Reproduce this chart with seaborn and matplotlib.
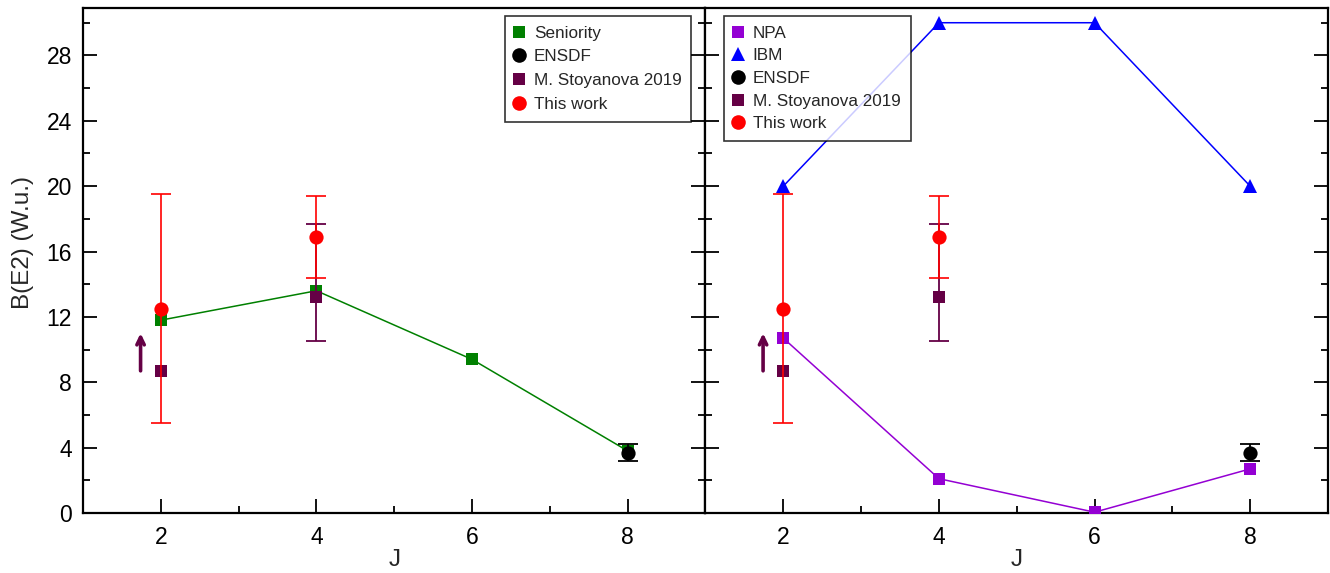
import numpy as np
import pandas as pd
import matplotlib
matplotlib.use("Agg")
import matplotlib.pyplot as plt
from matplotlib.ticker import MultipleLocator
from matplotlib.lines import Line2D
import seaborn as sns

# ---- data ----
J_model = [2, 4, 6, 8]
seniority = [11.8, 13.6, 9.4, 3.8]
npa = [10.7, 2.1, 0.05, 2.7]
ibm = [20.0, 30.0, 30.0, 20.0]

ensdf_J = [8]
ensdf_val = [3.7]
ensdf_err = [0.5]

stoy_J = [2, 4]
stoy_val = [8.7, 13.2]
stoy_err_lo = [0.0, 2.7]
stoy_err_hi = [0.0, 4.5]
stoy_limit_J = 1.74          # J=2 value is a lower limit
stoy_limit_from = 8.7
stoy_limit_to = 11.0

this_J = [2, 4]
this_val = [12.5, 16.9]
this_err = [7.0, 2.5]

# ---- style ----
sns.set_theme(style="white")
plt.rcParams["font.family"] = ["Liberation Sans", "DejaVu Sans"]

C_SEN = "#008000"
C_NPA = "#9400d3"
C_IBM = "#0000ff"
C_ENS = "#000000"
C_STO = "#650045"
C_THIS = "#ff0000"

fig, axes = plt.subplots(1, 2, figsize=(13.3, 5.73), dpi=100, sharey=True)
fig.subplots_adjust(left=0.0624, right=0.9985, top=0.986, bottom=0.1047, wspace=0)


def model_line(ax, values, color, marker, ms, z):
    df = pd.DataFrame({"J": J_model, "B": values})
    sns.lineplot(data=df, x="J", y="B", ax=ax, color=color, lw=1.1,
                 marker=marker, markersize=ms, markeredgewidth=0,
                 markeredgecolor=color, zorder=z, legend=False)


def data_points(ax):
    # ENSDF
    ax.errorbar(ensdf_J, ensdf_val, yerr=ensdf_err, fmt="none", ecolor=C_ENS,
                elinewidth=1.3, capsize=7.5, capthick=1.3, zorder=6)
    sns.scatterplot(x=ensdf_J, y=ensdf_val, ax=ax, color=C_ENS, marker="o",
                    s=105, linewidth=0, zorder=7, legend=False)
    # M. Stoyanova 2019: error bars only where an uncertainty is given
    has_err = [(lo > 0 or hi > 0) for lo, hi in zip(stoy_err_lo, stoy_err_hi)]
    ej = [j for j, k in zip(stoy_J, has_err) if k]
    ev = [v for v, k in zip(stoy_val, has_err) if k]
    elo = [e for e, k in zip(stoy_err_lo, has_err) if k]
    ehi = [e for e, k in zip(stoy_err_hi, has_err) if k]
    ax.errorbar(ej, ev, yerr=[elo, ehi], fmt="none",
                ecolor=C_STO, elinewidth=1.3, capsize=7.5, capthick=1.3, zorder=5)
    sns.scatterplot(x=stoy_J, y=stoy_val, ax=ax, color=C_STO, marker="s",
                    s=75, linewidth=0, zorder=6, legend=False)
    ax.annotate("", xy=(stoy_limit_J, stoy_limit_to),
                xytext=(stoy_limit_J, stoy_limit_from),
                arrowprops=dict(arrowstyle="->,head_length=0.45,head_width=0.22",
                                color=C_STO, lw=2.6, shrinkA=0, shrinkB=0),
                zorder=6)
    # This work
    ax.errorbar(this_J, this_val, yerr=this_err, fmt="none", ecolor=C_THIS,
                elinewidth=1.2, capsize=7.5, capthick=1.2, zorder=8)
    sns.scatterplot(x=this_J, y=this_val, ax=ax, color=C_THIS, marker="o",
                    s=105, linewidth=0, zorder=9, legend=False)


ax1, ax2 = axes
model_line(ax1, seniority, C_SEN, "s", 8.5, 3)
data_points(ax1)

model_line(ax2, npa, C_NPA, "s", 8.5, 3)
model_line(ax2, ibm, C_IBM, "^", 10, 10)
data_points(ax2)

for ax in axes:
    ax.set_xlim(1, 9)
    ax.set_ylim(0, 30.9)
    ax.xaxis.set_major_locator(MultipleLocator(2))
    ax.xaxis.set_minor_locator(MultipleLocator(1))
    ax.yaxis.set_major_locator(MultipleLocator(4))
    ax.yaxis.set_minor_locator(MultipleLocator(2))
    ax.tick_params(which="both", direction="in", left=True, right=True,
                   bottom=True, top=False, colors="black", width=1.3)
    ax.tick_params(which="major", length=10, labelsize=16.5)
    ax.tick_params(axis="x", which="major", pad=9)
    ax.tick_params(axis="y", which="major", pad=8)
    ax.tick_params(which="minor", length=5)
    for s in ax.spines.values():
        s.set_color("black")
        s.set_linewidth(1.6)
    ax.set_xlabel("J", fontsize=17.5, labelpad=0)
    ax.grid(False)

ax1.set_ylabel("B(E2) (W.u.)", fontsize=17.5)
ax1.yaxis.set_label_coords(-0.079, 0.535)
ax2.tick_params(axis="y", labelleft=False)
ax2.set_ylabel("")


def handle(color, marker, ms):
    return Line2D([], [], linestyle="none", marker=marker, color=color,
                  markersize=ms, markeredgewidth=0)


h_sen = handle(C_SEN, "s", 8)
h_npa = handle(C_NPA, "s", 8)
h_ibm = handle(C_IBM, "^", 10)
h_ens = handle(C_ENS, "o", 10.5)
h_sto = handle(C_STO, "s", 8)
h_this = handle(C_THIS, "o", 10.5)

leg_kw = dict(fontsize=12.3, frameon=True, fancybox=False, edgecolor="black",
              handletextpad=0.6, borderpad=0.58, labelspacing=0.52,
              handlelength=0.5, borderaxespad=0)
l1 = ax1.legend([h_sen, h_ens, h_sto, h_this],
                ["Seniority", "ENSDF", "M. Stoyanova 2019", "This work"],
                loc="upper left", bbox_to_anchor=(0.678, 0.985), **leg_kw)
l2 = ax2.legend([h_npa, h_ibm, h_ens, h_sto, h_this],
                ["NPA", "IBM", "ENSDF", "M. Stoyanova 2019", "This work"],
                loc="upper left", bbox_to_anchor=(0.03, 0.985),
                **{**leg_kw, "labelspacing": 0.45})
for leg in (l1, l2):
    leg.get_frame().set_linewidth(1.2)
    leg.set_zorder(20)

fig.savefig("out.png", dpi=100)
